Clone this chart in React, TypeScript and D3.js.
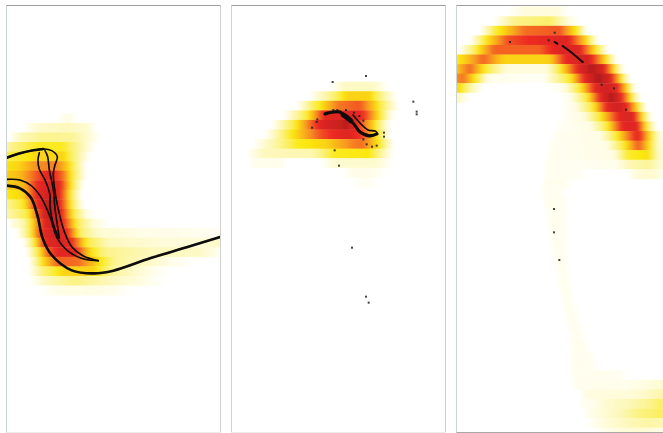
import React from "react";
import * as d3 from "d3";

type Stop = [number, number];
type Row = Stop[];
type Pt = [number, number];

// Heat rows: each row lists [x, intensity] (x in 1/3 px of panel crop)
const heatRowsA: Row[] = [
  [[170,0],[205,.06],[235,0]],
  [[70,0],[110,.1],[200,.14],[260,.1],[290,0]],
  [[30,0],[60,.14],[130,.22],[220,.2],[270,.08],[300,0]],
  [[10,.14],[40,.24],[110,.36],[190,.36],[250,.14],[285,0]],
  [[10,.3],[70,.37],[120,.42],[190,.42],[240,.16],[270,0]],
  [[10,.38],[60,.42],[110,.54],[170,.56],[205,.42],[260,0]],
  [[10,.42],[60,.46],[110,.62],[150,.74],[190,.58],[225,.28],[260,0]],
  [[10,.42],[70,.46],[105,.66],[140,.78],[180,.72],[210,.42],[250,0]],
  [[10,.36],[70,.42],[110,.72],[150,.82],[180,.72],[215,.32],[245,0]],
  [[10,.18],[70,.36],[110,.7],[150,.92],[180,.74],[215,.34],[250,0]],
  [[10,.14],[80,.32],[120,.68],[150,.92],[185,.72],[225,.3],[265,.03],[300,0]],
  [[30,.04],[70,.16],[105,.48],[135,.76],[170,.84],[200,.62],[235,.3],[280,.08],[330,0]],
  [[50,0],[85,.28],[125,.7],[165,.82],[205,.68],[245,.26],[300,.09],[420,.05],[560,.04],[663,.02]],
  [[70,0],[100,.32],[135,.72],[180,.8],[220,.66],[265,.32],[330,.13],[480,.08],[600,.08],[663,.12]],
  [[80,.03],[110,.3],[140,.58],[180,.76],[225,.72],[270,.4],[320,.22],[450,.14],[600,.12],[663,.02]],
  [[90,.03],[125,.38],[170,.6],[240,.58],[290,.42],[350,.2],[450,.12],[520,.04],[590,0]],
  [[90,.03],[130,.26],[190,.42],[280,.42],[340,.2],[450,.05],[510,0]],
  [[95,.02],[140,.14],[220,.24],[330,.14],[400,.08],[500,0]],
  [[110,0],[170,.05],[260,.06],[340,.04],[400,0]],
];
const heatRowsB: Row[] = [
  [[300,0],[340,.12],[430,.12],[475,0]],
  [[235,0],[290,.18],[350,.42],[420,.42],[470,.14],[500,0]],
  [[200,0],[250,.3],[320,.56],[390,.62],[440,.4],[505,0]],
  [[160,0],[230,.34],[285,.72],[350,.78],[405,.66],[445,.4],[490,0]],
  [[125,0],[200,.38],[275,.76],[350,.9],[395,.62],[430,.42],[480,0]],
  [[105,0],[180,.36],[270,.62],[350,.76],[395,.66],[445,.36],[480,0]],
  [[70,0],[120,.14],[200,.36],[290,.42],[370,.56],[400,.58],[450,.36],[490,0]],
  [[50,0],[100,.14],[250,.16],[310,.36],[420,.38],[490,0]],
  [[50,0],[70,.04],[150,.04],[175,0],[270,0],[320,.1],[440,.1],[490,0]],
  [[335,0],[370,.05],[440,.04],[470,0]],
  [[360,0],[395,.03],[420,.03],[440,0]],
];
const heatRowsC: Row[] = [
  [[170,0],[220,.07],[320,.07],[360,0]],
  [[130,0],[190,.22],[300,.28],[360,.06],[385,0]],
  [[90,0],[135,.34],[220,.58],[330,.62],[385,.34],[410,0]],
  [[60,0],[105,.36],[170,.62],[280,.72],[350,.76],[410,.4],[445,0]],
  [[30,.02],[85,.38],[130,.6],[270,.6],[330,.76],[385,.76],[440,.36],[475,0]],
  [[15,.36],[50,.44],[100,.6],[160,.42],[300,.42],[350,.72],[410,.82],[470,.38],[500,0]],
  [[15,.42],[60,.6],[105,.36],[170,.07],[290,.07],[340,.42],[390,.76],[425,.92],[460,.78],[495,.36],[520,0]],
  [[15,.52],[40,.58],[85,.32],[115,.04],[280,.02],[360,.36],[410,.76],[445,.94],[480,.78],[515,.36],[540,0]],
  [[15,.42],[30,.4],[75,.1],[100,0],[290,0],[340,.04],[390,.36],[440,.76],[470,.82],[500,.74],[535,.36],[555,0]],
  [[15,.18],[35,.08],[60,0],[330,0],[360,.04],[410,.34],[455,.76],[485,.93],[515,.72],[545,.36],[570,0]],
  [[340,.02],[375,.05],[430,.36],[475,.76],[505,.82],[530,.72],[565,.36],[590,0]],
  [[340,.02],[400,.06],[450,.36],[485,.58],[520,.78],[550,.76],[580,.36],[605,0]],
  [[320,.02],[420,.05],[470,.34],[520,.74],[560,.76],[590,.36],[620,0]],
  [[310,.03],[450,.05],[500,.36],[540,.6],[565,.74],[600,.4],[630,.06],[650,0]],
  [[300,.03],[470,.05],[525,.38],[565,.62],[595,.42],[625,.12],[650,0]],
  [[295,.03],[490,.05],[530,.34],[595,.4],[625,.14],[650,0]],
  [[285,.03],[400,.03],[500,.04],[540,.16],[600,.2],[639,.06]],
  [[285,.03],[370,.03],[420,0],[530,0],[560,.08],[610,.1],[639,.04]],
  [[280,.035],[350,.035],[360,0]],
  [[280,.035],[335,.035],[345,0]],
  [[283,.035],[345,.035],[352,0]],
  [[287,.035],[345,.035],[352,0]],
  [[293,.035],[345,.035],[352,0]],
  [[298,.035],[345,.035],[352,0]],
  [[303,.035],[345,.035],[352,0]],
  [[308,.035],[347,.035],[354,0]],
  [[314,.035],[349,.035],[356,0]],
  [[320,.035],[351,.035],[358,0]],
  [[326,.035],[353,.035],[360,0]],
  [[332,.035],[358,.035],[365,0]],
  [[338,.035],[364,.035],[371,0]],
  [[344,.035],[372,.035],[379,0]],
  [[350,.035],[380,.035],[387,0]],
  [[356,.035],[388,.035],[395,0]],
  [[362,.035],[396,.035],[403,0]],
  [[366,.035],[408,.035],[416,0]],
  [[360,0],[366,.035],[420,.035],[430,0]],
  [[360,0],[366,.035],[430,.035],[445,0]],
  [[360,0],[370,.035],[510,.035],[530,0]],
  [[365,0],[375,.035],[540,.04],[600,.07],[639,.1]],
  [[395,.03],[411,.06],[550,.08],[600,.13],[639,.18]],
  [[395,.03],[440,.04],[460,.09],[540,.15],[600,.22],[639,.3]],
  [[405,.03],[440,.06],[500,.13],[570,.24],[639,.3]],
  [[420,.02],[450,.06],[520,.13],[590,.18],[639,.16]],
  [[440,.02],[480,.05],[540,.09],[590,.08],[639,.05]],
];

// Line traces, crop units
const tracesA: Pt[][] = [
  [[20,143],[60,130],[100,121],[130,117],[155,122],[172,140],[165,165],[160,190],[163,230],[170,275],[180,320],[195,370],[215,410],[250,438],[295,452]],
  [[118,128],[114,150],[118,178],[135,210],[150,255],[150,290],[158,335],[175,382]],
  [[135,122],[143,140],[148,180],[160,240],[165,295],[172,345],[178,385]],
  [[20,208],[60,210],[95,228],[125,265],[150,320],[172,385],[210,428],[255,448],[295,452]],
];
const tracesAThick: Pt[][] = [
  [[20,143],[60,130],[100,121],[130,117]],
  [[20,227],[60,235],[92,262],[112,315],[128,385],[155,435],[215,481],[280,490],[340,482],[450,445],[560,412],[663,380]],
];
const tracesB: Pt[][] = [
  [[390,216],[420,225],[441,219],[435,213],[414,210],[390,189],[369,165]],
];
const tracesBThick: Pt[][] = [
  [[285,162],[305,157],[330,156],[345,171],[369,189],[390,216],[420,228],[441,222]],
  [[340,165],[350,172],[362,182]],
];
const tracesC: Pt[][] = [[[338,138],[365,158],[398,186]],[[314,126],[322,131]]];

const dotsA: Pt[] = [];
const dotsB: Pt[] = [
  [408,48],[308,66],[550,125],[560,155],[560,163],[262,178],[260,186],[246,203],[462,218],[462,230],[400,238],[410,253],[426,260],[440,257],[314,271],[327,317],
  [310,150],[322,150],[348,150],[372,158],[388,168],[400,182],
  [366,563],[408,710],[416,728],
];
const dotsC: Pt[] = [[314,98],[180,126],[296,121],[455,254],[492,265],[528,329],[312,627],[312,697],[328,780]];

const colorStops: [number, string][] = [
  [0,"#ffffff"],[.05,"#fffde6"],[.14,"#fdf8bc"],[.28,"#fbf06a"],[.38,"#fbe80e"],[.52,"#f89a20"],[.68,"#ee2a22"],[.86,"#c8201f"],[1,"#931c1c"],
];
const color = d3.scaleLinear<string>().domain(colorStops.map(c => c[0])).range(colorStops.map(c => c[1])).clamp(true);

const panelsFrame = [
  { left: 6.5, right: 220.5, top: 5.5, bottom: 432.5 },
  { left: 231.5, right: 445.5, top: 5.5, bottom: 432.5 },
  { left: 456.5, right: 664, top: 5.5, bottom: 432.5 },
];

const crop = (ox: number, oy: number) => ({
  x: d3.scaleLinear().domain([0, 663]).range([ox, ox + 221]),
  y: d3.scaleLinear().domain([0, 663]).range([oy, oy + 221]),
});

const panels = [
  { id: "a", rows: heatRowsA, ox: 0, oy: 110, rowStart: 10, thin: tracesA, thick: tracesAThick, dots: dotsA, f: panelsFrame[0] },
  { id: "b", rows: heatRowsB, ox: 230, oy: 60, rowStart: 65, thin: tracesB, thick: tracesBThick, dots: dotsB, f: panelsFrame[1] },
  { id: "c", rows: heatRowsC, ox: 450, oy: 0, rowStart: 20, thin: [] as Pt[][], thick: tracesC, dots: dotsC, f: panelsFrame[2] },
];

const ROW = 28.7;
const sample = (r: Row) => {
  const xs = r.map(s => s[0]);
  const vs = r.map(s => s[1]);
  const t = d3.scaleLinear().domain(xs).range(vs);
  const out: Stop[] = [];
  for (let x = xs[0]; x <= xs[xs.length - 1]; x += 6) out.push([x, t(x)]);
  out.push(r[r.length - 1]);
  return out;
};

export default function App() {
  const line = d3.line().curve(d3.curveCatmullRom.alpha(0.5));
  return (
    <svg width={663} height={433} style={{ position: "absolute", left: 0, top: 0, background: "#fff" }}>
      <defs>
        <filter id="soft" x="-5%" y="-5%" width="110%" height="110%"><feGaussianBlur stdDeviation="2 0.6" /></filter>
        <filter id="ink" x="-5%" y="-5%" width="110%" height="110%"><feGaussianBlur stdDeviation="0.4" /></filter>
        {panels.map(p => (
          <clipPath id={`clip-${p.id}`} key={p.id}>
            <rect x={p.f.left} y={p.f.top} width={p.f.right - p.f.left} height={p.f.bottom - p.f.top} />
          </clipPath>
        ))}
        {panels.map(p => {
          const s = crop(p.ox, p.oy);
          return p.rows.map((r, i) => {
            const st = sample(r);
            const x0 = s.x(st[0][0]);
            const x1 = s.x(st[st.length - 1][0]);
            return (
              <linearGradient id={`g-${p.id}-${i}`} key={`${p.id}${i}`} gradientUnits="userSpaceOnUse" x1={x0} x2={x1} y1={0} y2={0}>
                {st.map((q, j) => (
                  <stop key={j} offset={(s.x(q[0]) - x0) / (x1 - x0)} stopColor={color(q[1])} />
                ))}
              </linearGradient>
            );
          });
        })}
      </defs>
      {panels.map(p => {
        const s = crop(p.ox, p.oy);
        const toPath = (t: Pt[]) => line(t.map(q => [s.x(q[0]), s.y(q[1])] as [number, number])) || "";
        return (
          <g key={p.id}>
            <g clipPath={`url(#clip-${p.id})`}>
              <g filter="url(#soft)">
                {p.rows.map((r, i) => {
                  const x0 = s.x(r[0][0]) - (r[0][1] > 0.1 ? 8 : 0);
                  const x1 = s.x(r[r.length - 1][0]) + (r[r.length - 1][1] > 0.05 ? 8 : 0);
                  return (
                    <rect key={i} x={x0} width={x1 - x0}
                      y={s.y(p.rowStart + i * ROW)} height={s.y(ROW) - s.y(0) + 0.4}
                      fill={`url(#g-${p.id}-${i})`} />
                  );
                })}
              </g>
              <g filter="url(#ink)" fill="none" stroke="#0a0808" strokeLinecap="round" strokeLinejoin="round">
                {p.thin.map((t, i) => (
                  <path key={i} d={toPath(t)} strokeWidth={1.6} />
                ))}
                {p.thick.map((t, i) => (
                  <path key={i} d={toPath(t)} strokeWidth={p.id === "c" ? 2 : p.id === "b" ? (i === 1 ? 5 : 3) : 2.6} />
                ))}
              </g>
              <g fill="#222" opacity={0.85}>
                {p.dots.map((d, i) => (
                  <rect key={i} x={s.x(d[0]) - 1} y={s.y(d[1]) - 1} width={2} height={2} />
                ))}
              </g>
            </g>
            <path d={`M${p.f.left},${p.f.bottom}V${p.f.top}`} stroke="#c9d2d4" fill="none" />
            <path d={`M${p.f.right},${p.f.top}V${p.f.bottom}`} stroke="#cfcfcf" fill="none" />
            <path d={`M${p.f.left},${p.f.top}H${p.f.right}`} stroke="#9c9c9c" fill="none" />
            <path d={`M${p.f.left},${p.f.bottom}H${p.f.right}`} stroke={p.id === "c" ? "#a8a8a8" : "#ececec"} fill="none" />
          </g>
        );
      })}
    </svg>
  );
}
